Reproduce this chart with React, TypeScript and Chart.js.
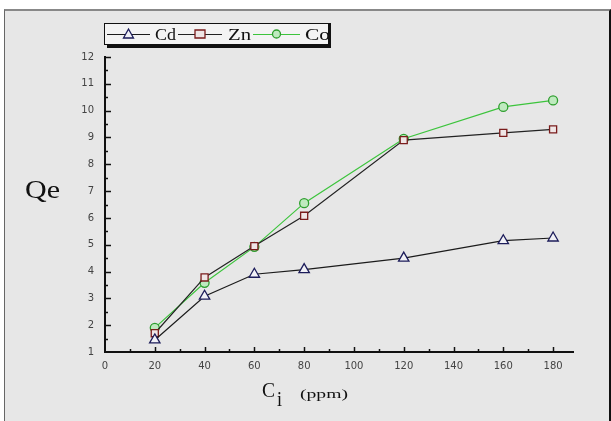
import React, { useEffect, useRef } from "react";
import { Chart, registerables } from "chart.js";

Chart.register(...registerables);

// Initial concentration (ppm)
const concentrations = [20, 40, 60, 80, 120, 160, 180];
// Adsorption capacity Qe for each metal
const cdValues = [1.45, 3.08, 3.9, 4.07, 4.5, 5.15, 5.25];
const znValues = [1.7, 3.78, 4.95, 6.08, 8.9, 9.17, 9.3];
const coValues = [1.9, 3.58, 4.92, 6.55, 8.95, 10.14, 10.38];

const xTickLabels = [0, 20, 40, 60, 80, 100, 120, 140, 160, 180];
const yTickLabels = [1, 2, 3, 4, 5, 6, 7, 8, 9, 10, 11, 12];
const seriesNames = ["Cd", "Zn", "Co"];

const toPoints = (ys: number[]) => concentrations.map((x, i) => ({ x, y: ys[i] }));

// draws text stretched horizontally to a given width
function wideText(
  ctx: CanvasRenderingContext2D,
  text: string,
  x: number,
  y: number,
  font: string,
  width: number
) {
  ctx.save();
  ctx.font = font;
  ctx.textAlign = "left";
  const w = ctx.measureText(text).width;
  ctx.translate(x, y);
  ctx.scale(width / w, 1);
  ctx.fillText(text, 0, 0);
  ctx.restore();
}

const decorPlugin = {
  id: "decor",
  afterDraw(chart: any) {
    const ctx = chart.ctx as CanvasRenderingContext2D;
    const xs = chart.scales.x;
    const ys = chart.scales.y;
    const area = chart.chartArea;
    ctx.save();
    ctx.strokeStyle = "#111";
    ctx.lineWidth = 1.5;
    // inward tick marks on x axis
    for (let v = 10; v <= 180; v += 10) {
      const px = Math.round(xs.getPixelForValue(v)) + 0.5;
      const len = v % 20 === 0 ? 5 : 3;
      ctx.beginPath();
      ctx.moveTo(px, area.bottom);
      ctx.lineTo(px, area.bottom - len);
      ctx.stroke();
    }
    // inward tick marks on y axis
    for (let v = 1.5; v <= 12; v += 0.5) {
      const py = Math.round(ys.getPixelForValue(v)) + 0.5;
      const len = Number.isInteger(v) ? 6 : 3;
      ctx.beginPath();
      ctx.moveTo(area.left, py);
      ctx.lineTo(area.left + len, py);
      ctx.stroke();
    }

    // axis titles
    ctx.fillStyle = "#111";
    ctx.textBaseline = "alphabetic";
    const serif = "'Liberation Serif', serif";
    wideText(ctx, "Qe", 25, 198, `26px ${serif}`, 35);
    wideText(ctx, "C", 262, 397, `21px ${serif}`, 13);
    wideText(ctx, "i", 277, 406, `20px ${serif}`, 5);
    wideText(ctx, "(ppm)", 300, 398, `13px ${serif}`, 48);

    // legend box with drop shadow
    const bx = 104, by = 23, bw = 224, bh = 21;
    ctx.fillStyle = "#111";
    ctx.fillRect(bx + 3, by + 3, bw, bh + 1);
    ctx.fillStyle = "#f3f3f3";
    ctx.fillRect(bx, by, bw, bh);

    const items = [
      { x0: 107, x1: 150, tx: 155, tw: 21 },
      { x0: 178, x1: 222, tx: 228, tw: 23 },
      { x0: 253, x1: 300, tx: 305, tw: 25 },
    ];
    const cy = by + 11;
    chart.data.datasets.forEach((ds: any, i: number) => {
      const it = items[i];
      ctx.strokeStyle = ds.borderColor;
      ctx.lineWidth = 1.2;
      ctx.beginPath();
      ctx.moveTo(it.x0, cy + 0.5);
      ctx.lineTo(it.x1, cy + 0.5);
      ctx.stroke();
      const mx = (it.x0 + it.x1) / 2;
      ctx.fillStyle = ds.pointBackgroundColor;
      ctx.strokeStyle = ds.pointBorderColor;
      ctx.lineWidth = 1.3;
      ctx.beginPath();
      if (ds.pointStyle === "triangle") {
        ctx.moveTo(mx, cy - 5);
        ctx.lineTo(mx + 5, cy + 4);
        ctx.lineTo(mx - 5, cy + 4);
        ctx.closePath();
      } else if (ds.pointStyle === "rect") {
        ctx.rect(mx - 5, cy - 4, 10, 8);
      } else {
        ctx.arc(mx, cy, 4, 0, Math.PI * 2);
      }
      ctx.fill();
      ctx.stroke();
      ctx.fillStyle = "#111";
      ctx.textBaseline = "alphabetic";
      wideText(ctx, seriesNames[i], it.tx, cy + 6, `16px ${serif}`, it.tw);
    });
    // black frame drawn last so the final label runs under the edge
    ctx.fillStyle = "#111";
    ctx.fillRect(bx + bw, by, 3, bh + 4);
    ctx.strokeStyle = "#111";
    ctx.lineWidth = 1;
    ctx.strokeRect(bx + 0.5, by + 0.5, bw, bh);
    ctx.restore();
  },
};

export default function App() {
  const ref = useRef<HTMLCanvasElement | null>(null);

  useEffect(() => {
    if (!ref.current) return;
    const tickFont = { family: "'DejaVu Sans', sans-serif", size: 10 };
    const chart = new Chart(ref.current, {
      type: "line",
      data: {
        datasets: [
          {
            label: seriesNames[0],
            data: toPoints(cdValues),
            borderColor: "#1b1b1b",
            borderWidth: 1.2,
            pointStyle: "triangle",
            pointRadius: 6,
            pointBorderWidth: 1.3,
            pointBackgroundColor: "#f1f1f6",
            pointBorderColor: "#1c1c5a",
          },
          {
            label: seriesNames[1],
            data: toPoints(znValues),
            borderColor: "#222",
            borderWidth: 1.2,
            pointStyle: "rect",
            pointRadius: 5,
            pointBorderWidth: 1.3,
            pointBackgroundColor: "#efe6e6",
            pointBorderColor: "#7a1c1c",
          },
          {
            label: seriesNames[2],
            data: toPoints(coValues),
            borderColor: "#3cc43c",
            borderWidth: 1.2,
            pointStyle: "circle",
            pointRadius: 4.5,
            pointBorderWidth: 1.3,
            pointBackgroundColor: "#bfeabf",
            pointBorderColor: "#2e9e2e",
          },
        ],
      },
      options: {
        responsive: false,
        animation: false,
        devicePixelRatio: 1,
        layout: { padding: { top: 57, right: 38, left: 0, bottom: 0 } },
        plugins: { legend: { display: false }, tooltip: { enabled: false } },
        scales: {
          x: {
            type: "linear",
            min: 0,
            max: 188,
            afterFit: (s: any) => {
              s.height = 69;
            },
            afterBuildTicks: (s: any) => {
              s.ticks = xTickLabels.map((v) => ({ value: v }));
            },
            grid: { display: false, drawTicks: false },
            border: { display: true, color: "#111", width: 2 },
            ticks: { color: "#444", font: tickFont, padding: 8, maxRotation: 0, autoSkip: false },
          },
          y: {
            type: "linear",
            min: 1,
            max: 12,
            afterFit: (s: any) => {
              s.width = 105;
            },
            afterBuildTicks: (s: any) => {
              s.ticks = yTickLabels.map((v) => ({ value: v }));
            },
            grid: { display: false, drawTicks: false },
            border: { display: true, color: "#111", width: 2 },
            ticks: { color: "#444", font: tickFont, padding: 11, autoSkip: false },
          },
        },
      },
      plugins: [decorPlugin],
    } as any);
    return () => chart.destroy();
  }, []);

  return (
    <div style={{ position: "fixed", left: 0, top: 0, width: 611, height: 421, background: "#fff", overflow: "hidden" }}>
      <div
        style={{
          position: "absolute",
          left: 4,
          top: 9,
          width: 604,
          height: 420,
          background: "#e7e7e7",
          borderLeft: "1px solid #666",
          borderTop: "2px solid #888",
          borderRight: "2px solid #111",
        }}
      />
      <canvas ref={ref} width={611} height={421} style={{ position: "absolute", left: 0, top: 0 }} />
    </div>
  );
}
